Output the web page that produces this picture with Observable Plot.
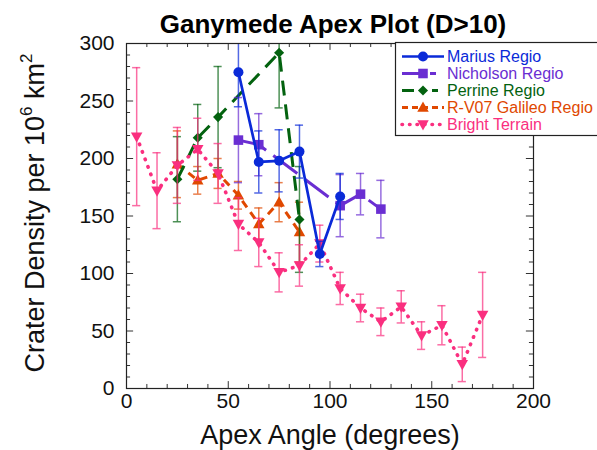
<!DOCTYPE html>
<html><head><meta charset="utf-8">
<script src="https://cdn.jsdelivr.net/npm/d3@7"></script>
<script src="https://cdn.jsdelivr.net/npm/@observablehq/plot@0.6"></script>
<style>body{margin:0;background:#fff;} svg{display:block;}</style>
</head><body><div id="chart"></div>
<script>
// ---------- data ----------
const titleText = "Ganymede Apex Plot (D>10)";
const xLabel = "Apex Angle (degrees)";
const xTickLabels = [0, 50, 100, 150, 200];
const yTickLabels = [0, 50, 100, 150, 200, 250, 300];
const xMinorTicks = [0,10,20,30,40,50,60,70,80,90,100,110,120,130,140,150,160,170,180,190,200];
const yMinorTicks = [0,10,20,30,40,50,60,70,80,90,100,110,120,130,140,150,160,170,180,190,200,210,220,230,240,250,260,270,280,290,300];

const seriesNames = ["Marius Regio", "Nicholson Regio", "Perrine Regio", "R-V07 Galileo Regio", "Bright Terrain"];

const mariusX = [55, 65, 75, 85, 95, 105];
const mariusY = [275, 197, 198, 206, 117, 167];
const mariusErr = [30, 27, 27, 23, 11, 20];

const nicholsonX = [55, 65, 105, 115, 125];
const nicholsonY = [216, 212, 159, 169, 156];
const nicholsonErr = [37, 27, 27, 18, 25];

const perrineX = [25, 35, 45, 75, 85];
const perrineY = [182, 218, 236, 292, 147];
const perrineErr = [37, 29, 44, 48, 46];

const galileoX = [25, 35, 45, 55, 65, 75, 85];
const galileoY = [195, 181, 187, 168, 143, 162, 136];
const galileoErr = [29, 12, 13, 12, 14, 17, 26];

const brightX = [5, 15, 25, 35, 45, 55, 65, 75, 85, 95, 105, 115, 125, 135, 145, 155, 165, 175];
const brightY = [219, 172, 194, 208, 187, 143, 127, 101, 107, 126, 87, 70, 58, 71, 46, 55, 21, 64];
const brightErr = [60, 33, 33, 27, 26, 23, 21, 17, 18, 16, 14, 12, 12, 14, 12, 17, 15, 37];

// ---------- symbols ----------
function rOf(size){ return Math.sqrt(size/Math.PI); }
const symCircle = {draw(c, s){ const r = rOf(s); c.moveTo(r,0); c.arc(0,0,r,0,2*Math.PI); }};
const symSquare = {draw(c, s){ const r = rOf(s)*0.92; c.rect(-r,-r,2*r,2*r); }};
const symDiamond = {draw(c, s){ const r = rOf(s)*1.2; c.moveTo(0,-r); c.lineTo(r,0); c.lineTo(0,r); c.lineTo(-r,0); c.closePath(); }};
const symTriUp = {draw(c, s){ const r = rOf(s); c.moveTo(0,-r*1.2); c.lineTo(r*1.15,r*0.85); c.lineTo(-r*1.15,r*0.85); c.closePath(); }};
const symTriDown = {draw(c, s){ const r = rOf(s); c.moveTo(0,r*1.2); c.lineTo(r*1.15,-r*0.85); c.lineTo(-r*1.15,-r*0.85); c.closePath(); }};

const styles = {
  "Marius Regio":        {color:"#0a2ad8", dash:null,   cap:"butt",  width:2.7, symbol:symCircle,  r:5},
  "Nicholson Regio":     {color:"#6a2ed2", dash:"30,9", cap:"butt",  width:3,   symbol:symSquare,  r:5.2},
  "Perrine Regio":       {color:"#03620f", dash:"15,9", cap:"butt",  width:3,   symbol:symDiamond, r:4.2},
  "R-V07 Galileo Regio": {color:"#e04800", dash:"8,6",  cap:"butt",  width:3,   symbol:symTriUp,   r:5},
  "Bright Terrain":      {color:"#fa2f7f", dash:"0.5,7.5", cap:"round", width:3.6, symbol:symTriDown, r:5}
};
const legendDash = {
  "Marius Regio": null,
  "Nicholson Regio": "18,10,6,20",
  "Perrine Regio": "12,7,4,7,6,20",
  "R-V07 Galileo Regio": "6,4",
  "Bright Terrain": "0.5,7"
};

function rows(name, xs, ys, es){ return xs.map((x,i)=>({series:name, x, y:ys[i], err:es[i]})); }
const data = {
  "Marius Regio": rows("Marius Regio", mariusX, mariusY, mariusErr),
  "Nicholson Regio": rows("Nicholson Regio", nicholsonX, nicholsonY, nicholsonErr),
  "Perrine Regio": rows("Perrine Regio", perrineX, perrineY, perrineErr),
  "R-V07 Galileo Regio": rows("R-V07 Galileo Regio", galileoX, galileoY, galileoErr),
  "Bright Terrain": rows("Bright Terrain", brightX, brightY, brightErr)
};

const drawOrder = ["R-V07 Galileo Regio", "Perrine Regio", "Bright Terrain", "Nicholson Regio", "Marius Regio"];

function seriesMarks(name){
  const st = styles[name], d = data[name];
  return [
    Plot.ruleX(d, {x:"x", y1:r=>r.y-r.err, y2:r=>r.y+r.err, stroke:st.color, strokeOpacity:0.7, strokeWidth:1.5, clip:true}),
    Plot.ruleY(d, {y:r=>r.y+r.err, x1:r=>r.x-2, x2:r=>r.x+2, stroke:st.color, strokeOpacity:0.7, strokeWidth:1.5, clip:true}),
    Plot.ruleY(d, {y:r=>r.y-r.err, x1:r=>r.x-2, x2:r=>r.x+2, stroke:st.color, strokeOpacity:0.7, strokeWidth:1.5, clip:true}),
    Plot.line(d, {x:"x", y:"y", stroke:st.color, strokeWidth:st.width, strokeDasharray:st.dash, strokeLinecap:st.cap}),
    Plot.dot(d, {x:"x", y:"y", symbol:()=>st.symbol, r:st.r, fill:st.color, stroke:"none"})
  ];
}

const font = "'Liberation Sans', Arial, Helvetica, sans-serif";

const chart = Plot.plot({
  width:597, height:450,
  marginLeft:126, marginRight:64, marginTop:43, marginBottom:62,
  style:{fontFamily:font, background:"white", color:"#111"},
  x:{domain:[0,200]},
  y:{domain:[0,300]},
  marks:[
    // inward ticks
    Plot.ruleX(xMinorTicks, {x:d=>d, y1:0, y2:d=>d%50===0?6:3.5, stroke:"#333", strokeWidth:1}),
    Plot.ruleX(xMinorTicks, {x:d=>d, y1:300, y2:d=>d%50===0?294:296.5, stroke:"#333", strokeWidth:1}),
    Plot.ruleY(yMinorTicks, {y:d=>d, x1:0, x2:d=>d%50===0?3.5:2, stroke:"#333", strokeWidth:1}),
    Plot.ruleY(yMinorTicks, {y:d=>d, x1:200, x2:d=>d%50===0?196.5:198, stroke:"#333", strokeWidth:1}),
    Plot.axisX({ticks:xTickLabels, tickSize:0, tickPadding:5, fontSize:21, label:null}),
    Plot.axisY({ticks:yTickLabels, tickSize:0, tickPadding:12, fontSize:21, label:null}),
    ...drawOrder.flatMap(seriesMarks),
    Plot.frame({stroke:"#222", strokeWidth:1.2}),
    Plot.text([titleText], {frameAnchor:"top", text:d=>d, dx:3, dy:-19, fontSize:26, fontWeight:"bold", fill:"#000", lineAnchor:"middle"}),
    Plot.text([xLabel], {frameAnchor:"bottom", text:d=>d, dy:47, fontSize:27, fill:"#111", lineAnchor:"middle"})
  ]
});

document.getElementById("chart").appendChild(chart);

// y-axis label with superscripts
const svg = d3.select(chart);
const yl = svg.append("text")
  .attr("transform","translate(44,213) rotate(-90)")
  .attr("text-anchor","middle")
  .style("font-family", font)
  .style("font-size", "27px")
  .attr("fill","#111");
yl.append("tspan").text("Crater Density per 10");
yl.append("tspan").style("font-size","17px").attr("dy",-12).text("6");
yl.append("tspan").attr("dy",12).text(" km");
yl.append("tspan").style("font-size","17px").attr("dy",-12).text("2");

// legend
const lg = svg.append("g").style("font-family", font).attr("text-anchor","start");
lg.append("rect").attr("x",395.5).attr("y",42.5).attr("width",220).attr("height",93)
  .attr("fill","white").attr("stroke","#222").attr("stroke-width",1.2);
const rowY = [56.5, 73.5, 90.5, 107.5, 124.5];
seriesNames.forEach((name,i)=>{
  const st = styles[name], y = rowY[i];
  lg.append("line").attr("x1",402).attr("x2",444).attr("y1",y).attr("y2",y)
    .attr("stroke",st.color).attr("stroke-width",st.width)
    .attr("stroke-dasharray", legendDash[name])
    .attr("stroke-linecap", st.cap);
  lg.append("path").attr("transform",`translate(423,${y})`)
    .attr("d", d3.symbol(st.symbol, st.r*st.r*Math.PI)()).attr("fill",st.color);
  lg.append("text").attr("x",447).attr("y",y).attr("dy","0.35em").attr("text-anchor","start")
    .style("font-size","16px").attr("fill",st.color).text(name);
});
</script>
</body></html>
